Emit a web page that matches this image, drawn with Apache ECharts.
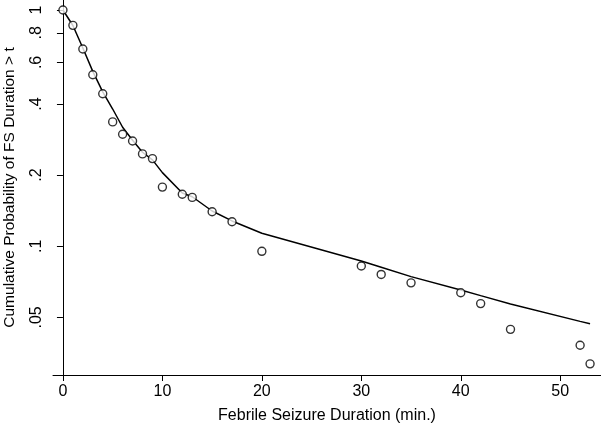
<!DOCTYPE html>
<html>
<head>
<meta charset="utf-8">
<script src="https://cdn.jsdelivr.net/npm/echarts@6/dist/echarts.min.js"></script>
<style>
  html, body { margin: 0; padding: 0; background: #fff; }
  #chart { width: 601px; height: 428px; }
</style>
</head>
<body>
<div id="chart"></div>
<script>
// durations (min.) at which the curve was estimated
const durations = [0, 1, 2, 3, 4, 5, 6, 7, 8, 9, 10, 12, 13, 15, 17, 20, 30, 32, 35, 40, 42, 45, 52, 53]
// empirical survival (circles)
const observed = [1, 0.861, 0.684, 0.532, 0.442, 0.336, 0.298, 0.279, 0.246, 0.235, 0.178, 0.166, 0.161, 0.140, 0.127, 0.0952, 0.0825, 0.076, 0.070, 0.0636, 0.0572, 0.0445, 0.0381, 0.0318]
// fitted curve (line)
const fitted = [1, 0.86, 0.69, 0.55, 0.45, 0.381, 0.319, 0.281, 0.25, 0.232, 0.205, 0.168, 0.162, 0.141, 0.128, 0.1135, 0.0866, 0.0815, 0.0744, 0.0653, 0.0618, 0.057, 0.0481, 0.047]
// tick labels
const xTicks = [0, 10, 20, 30, 40, 50]
const yTicks = [0.05, 0.1, 0.2, 0.4, 0.6, 0.8, 1]

let myChart = echarts.init(document.getElementById('chart'))

const font = '"Liberation Sans", Arial, Helvetica, sans-serif'

let option = {
  animation: false,
  textStyle: { fontFamily: font },
  grid: {
    left: 53,
    right: 0,
    top: 0,
    bottom: 53,
    containLabel: false,
    outerBoundsMode: 'none'
  },
  xAxis: {
    type: 'value',
    min: -1,
    max: 54.1,
    name: 'Febrile Seizure Duration (min.)',
    nameLocation: 'middle',
    nameGap: 33,
    nameTextStyle: { fontSize: 16, color: '#000', fontFamily: font },
    axisLine: { show: true, lineStyle: { color: '#000', width: 1 } },
    axisTick: { show: true, length: 6, customValues: xTicks, lineStyle: { color: '#000' } },
    axisLabel: {
      customValues: xTicks,
      fontSize: 16,
      color: '#000',
      margin: 9,
      fontFamily: font
    },
    splitLine: { show: false }
  },
  yAxis: {
    type: 'log',
    logBase: 10,
    min: 0.02852,
    max: 1.1023,
    name: 'Cumulative Probability of FS Duration > t',
    nameLocation: 'middle',
    nameGap: 35,
    nameRotate: 90,
    nameTextStyle: { fontSize: 15.5, color: '#000', fontFamily: font },
    axisLine: { show: true, lineStyle: { color: '#000', width: 1 } },
    axisTick: { show: true, length: 6, customValues: yTicks, lineStyle: { color: '#000' } },
    axisLabel: {
      customValues: yTicks,
      rotate: 90,
      fontSize: 16,
      color: '#000',
      margin: 8,
      fontFamily: font,
      formatter: function (v) {
        return String(v).replace(/^0\./, '.')
      }
    },
    splitLine: { show: false }
  },
  series: [
    {
      name: 'fitted',
      type: 'line',
      data: durations.map((d, i) => [d, fitted[i]]),
      showSymbol: false,
      smooth: false,
      lineStyle: { color: '#000', width: 1.5 },
      z: 2
    },
    {
      name: 'observed',
      type: 'scatter',
      data: durations.map((d, i) => [d, observed[i]]),
      symbol: 'circle',
      symbolSize: 8,
      itemStyle: { color: '#fff', borderColor: '#000', borderWidth: 1.4 },
      z: 3
    }
  ]
}

myChart.setOption(option)
</script>
</body>
</html>
